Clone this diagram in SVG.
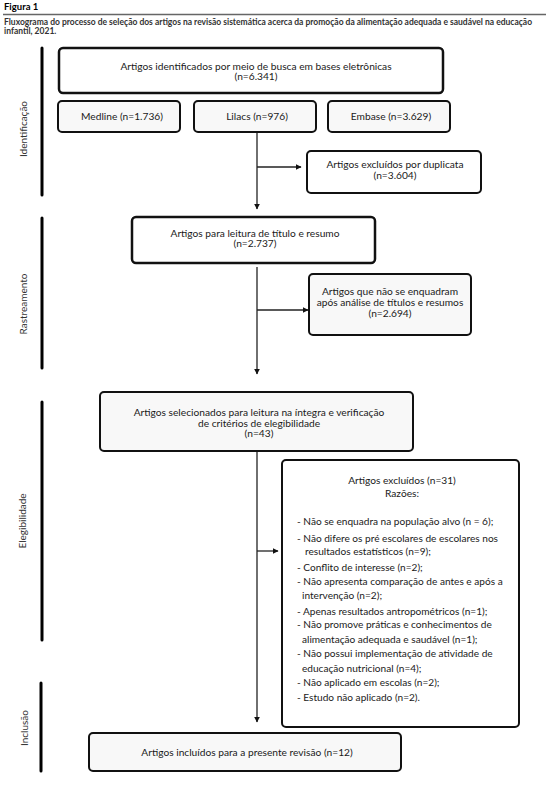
<svg xmlns="http://www.w3.org/2000/svg" width="550" height="793" viewBox="0 0 550 793">
<defs>
<marker id="ah" viewBox="0 0 10 10" refX="9" refY="5" markerWidth="6" markerHeight="6" markerUnits="userSpaceOnUse" orient="auto">
<path d="M0,0 L10,5 L0,10 z" fill="#111"/>
</marker>
</defs>
<style>
text{font-family:Lato,"Open Sans","Liberation Sans",sans-serif;fill:#1a1a1a}
.t{font-size:10.2px;text-anchor:middle}
.l{font-size:10.1px}
.lab{font-size:10px;text-anchor:middle;fill:#333}
.box{fill:#fff;stroke:#111;stroke-width:2}
.gbox{fill:#f8f8f8;stroke:#111;stroke-width:2}
.thick{stroke-width:2.5}
.bar{stroke:#000;stroke-width:3;stroke-linecap:round}
.con{fill:none;stroke:#222;stroke-width:1.3}
</style>
<rect width="550" height="793" fill="#fff"/>
<g id="header">
<text x="4" y="10" style="font-size:9.5px;font-weight:bold;fill:#000">Figura 1</text>
<line x1="3" y1="14.5" x2="546" y2="14.5" stroke="#666" stroke-width="1.5"/>
<text x="4" y="24.5" style="font-size:8.5px;font-weight:bold;fill:#333">Fluxograma do processo de seleção dos artigos na revisão sistemática acerca da promoção da alimentação adequada e saudável na educação</text>
<text x="4" y="34" style="font-size:8.5px;font-weight:bold;fill:#333">infantil, 2021.</text>
</g>
<g id="phases">
<line class="bar" x1="42" y1="48" x2="42" y2="195"/>
<text class="lab" transform="translate(26.5,129) rotate(-90)">Identificação</text>
<line class="bar" x1="42" y1="218" x2="42" y2="368"/>
<text class="lab" transform="translate(26.5,304) rotate(-90)">Rastreamento</text>
<line class="bar" x1="42" y1="402" x2="42" y2="640"/>
<text class="lab" transform="translate(25.5,521) rotate(-90)">Elegibilidade</text>
<line class="bar" x1="41" y1="683" x2="41" y2="771"/>
<text class="lab" transform="translate(27.5,728) rotate(-90)">Inclusão</text>
</g>
<g id="connectors">
<path class="con" d="M257,133 V209" marker-end="url(#ah)"/>
<path class="con" d="M257,167 H301" marker-end="url(#ah)"/>
<path class="con" d="M257,267 V374" marker-end="url(#ah)"/>
<path class="con" d="M257,310 H308" marker-end="url(#ah)"/>
<path class="con" d="M257,451 V722" marker-end="url(#ah)"/>
<path class="con" d="M257,551 H278" marker-end="url(#ah)"/>
</g>
<g id="n-identificados">
<rect class="box thick" x="59" y="48" width="384" height="45" rx="4"/>
<text class="t" x="256" y="69.5">Artigos identificados por meio de busca em bases eletrônicas</text>
<text class="t" x="256" y="80">(n=6.341)</text>
</g>
<g id="n-medline">
<rect class="gbox" x="58" y="101" width="122" height="31" rx="4"/>
<text class="t" x="122" y="119.5">Medline (n=1.736)</text>
</g>
<g id="n-lilacs">
<rect class="gbox" x="194" y="101" width="122" height="31" rx="4"/>
<text class="t" x="257" y="119.5">Lilacs (n=976)</text>
</g>
<g id="n-embase">
<rect class="gbox" x="328" y="101" width="122" height="31" rx="4"/>
<text class="t" x="391" y="119.5">Embase (n=3.629)</text>
</g>
<g id="n-duplicata">
<rect class="box" x="307" y="151" width="174" height="42" rx="4"/>
<text class="t" x="395" y="167.5">Artigos excluídos por duplicata</text>
<text class="t" x="395" y="179">(n=3.604)</text>
</g>
<g id="n-leitura">
<rect class="box thick" x="132" y="217" width="243" height="46" rx="4"/>
<text class="t" x="255" y="236.5">Artigos para leitura de título e resumo</text>
<text class="t" x="255" y="247">(n=2.737)</text>
</g>
<g id="n-naoenquadram">
<rect class="gbox" x="309" y="274" width="162" height="61" rx="4"/>
<text class="t" x="390" y="294.5">Artigos que não se enquadram</text>
<text class="t" x="390" y="305.5">após análise de títulos e resumos</text>
<text class="t" x="390" y="316.5">(n=2.694)</text>
</g>
<g id="n-selecionados">
<rect class="gbox" x="100" y="392" width="313" height="59" rx="4"/>
<text class="t" x="259" y="415.5">Artigos selecionados para leitura na íntegra e verificação</text>
<text class="t" x="259" y="426.5">de critérios de elegibilidade</text>
<text class="t" x="259" y="437">(n=43)</text>
</g>
<g id="n-excluidos">
<rect class="box" x="282" y="460" width="237" height="267" rx="4"/>
<text class="t" x="402" y="484">Artigos excluídos (n=31)</text>
<text class="t" x="402" y="496.5">Razões:</text>
<text class="l" x="297" y="524.5">- Não se enquadra na população alvo (n = 6);</text>
<text class="l" x="297" y="541.5">- Não difere os pré escolares de escolares nos</text>
<text class="l" x="305" y="555">resultados estatísticos (n=9);</text>
<text class="l" x="297" y="570.5">- Conflito de interesse (n=2);</text>
<text class="l" x="297" y="584.5">- Não apresenta comparação de antes e após a</text>
<text class="l" x="302" y="598.5">intervenção (n=2);</text>
<text class="l" x="297" y="614.5">- Apenas resultados antropométricos (n=1);</text>
<text class="l" x="297" y="627.5">- Não promove práticas e conhecimentos de</text>
<text class="l" x="302" y="642.5">alimentação adequada e saudável (n=1);</text>
<text class="l" x="297" y="656.5">- Não possui implementação de atividade de</text>
<text class="l" x="302" y="671.5">educação nutricional (n=4);</text>
<text class="l" x="297" y="685.5">- Não aplicado em escolas (n=2);</text>
<text class="l" x="297" y="700.5">- Estudo não aplicado (n=2).</text>
</g>
<g id="n-incluidos">
<rect class="gbox" x="89" y="733" width="312" height="38" rx="4"/>
<text class="t" x="247" y="755.5">Artigos incluídos para a presente revisão (n=12)</text>
</g>
</svg>
